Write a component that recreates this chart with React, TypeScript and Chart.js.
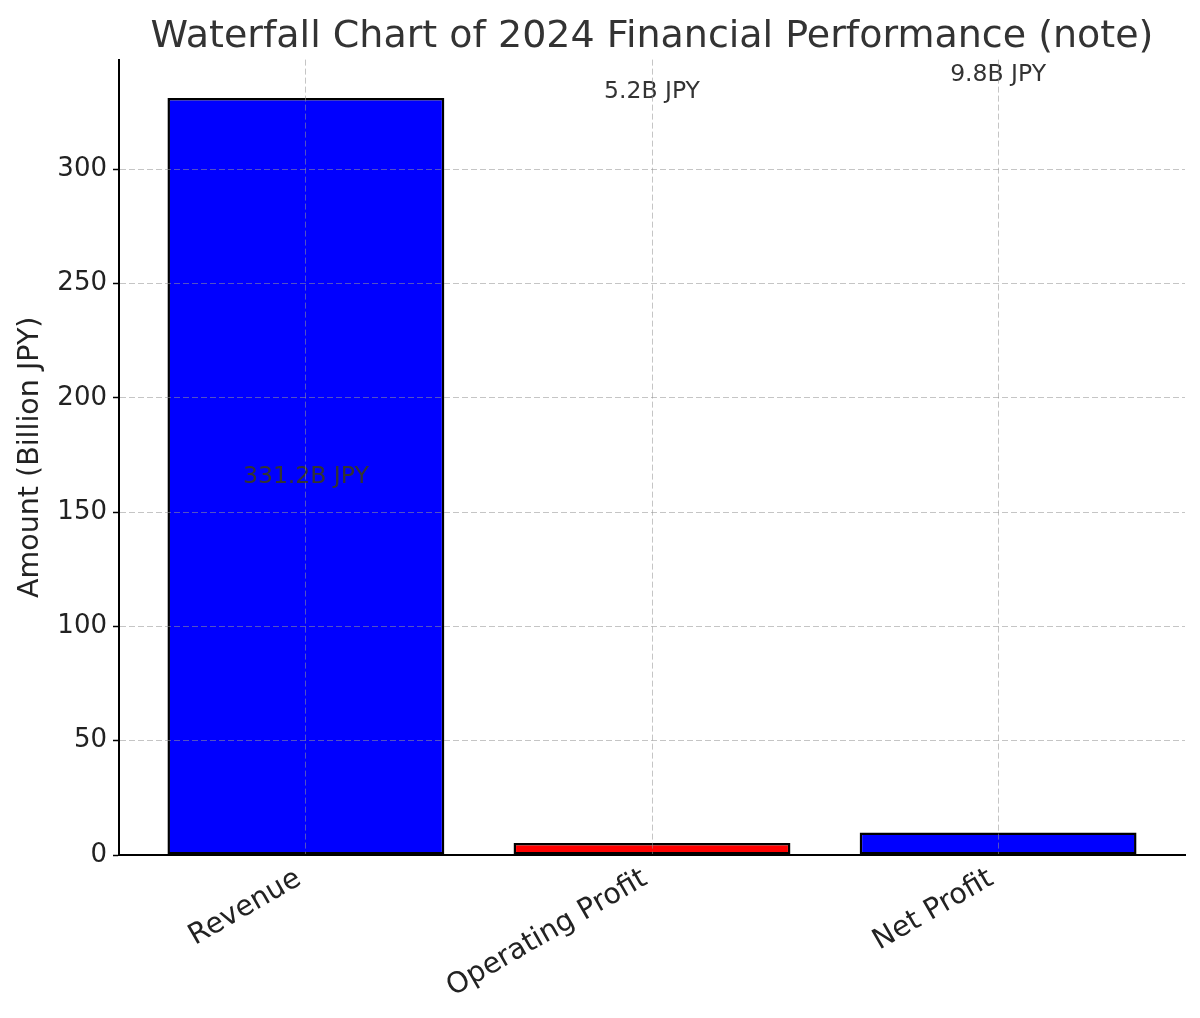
import React, { useRef, useEffect } from "react";
import { Chart, registerables } from "chart.js";

Chart.register(...registerables);

const categories = ["Revenue", "Operating Profit", "Net Profit"];
const amounts = [331.2, 5.2, 9.8];
const barColors = ["#0000ff", "#ff0000", "#0000ff"];
const valueLabels = ["331.2B JPY", "5.2B JPY", "9.8B JPY"];
const yTicks = [0, 50, 100, 150, 200, 250, 300];

const FONT = "'DejaVu Sans', sans-serif";
const GRID = "rgba(150, 150, 150, 0.55)";

// text labels placed at the running (cumulative) middle of each step
const barLabels = {
  id: "barLabels",
  afterDatasetsDraw(chart: any) {
    const { ctx, scales } = chart;
    ctx.save();
    ctx.font = `23.5px ${FONT}`;
    ctx.fillStyle = "#333333";
    ctx.textAlign = "center";
    ctx.textBaseline = "middle";
    let bottom = 0;
    amounts.forEach((v, i) => {
      ctx.fillText(
        valueLabels[i],
        scales.x.getPixelForValue(i),
        scales.y.getPixelForValue(bottom + v / 2)
      );
      bottom += v;
    });
    ctx.restore();
  },
};

const WaterfallChart = () => {
  const chartRef = useRef<HTMLCanvasElement>(null);

  useEffect(() => {
    if (!chartRef.current) return;
    const ctx = chartRef.current.getContext("2d");
    if (!ctx) return;

    const chart = new Chart(ctx, {
      type: "bar",
      data: {
        datasets: [
          {
            data: amounts.map((v, i) => ({ x: i, y: v })),
            backgroundColor: barColors,
            borderColor: "#000000",
            borderWidth: 2.5,
            borderSkipped: false,
            barPercentage: 0.8,
            categoryPercentage: 1.0,
          },
        ],
      },
      options: {
        animation: false,
        responsive: true,
        maintainAspectRatio: false,
        layout: { padding: { left: 0, right: 15, top: 0, bottom: 0 } },
        scales: {
          x: {
            type: "linear",
            min: -0.54,
            max: 2.54,
            offset: false,
            afterBuildTicks: (scale: any) => {
              scale.ticks = categories.map((_, i) => ({ value: i }));
            },
            afterFit: (scale: any) => {
              scale.height = 163;
            },
            grid: {
              offset: false,
              color: GRID,
              lineWidth: 1,
              drawTicks: false,
              z: 1,
            },
            border: { display: true, color: "#000000", width: 2, dash: [6, 3], z: 2 },
            ticks: {
              autoSkip: false,
              maxRotation: 30,
              minRotation: 30,
              padding: 7,
              labelOffset: -7,
              color: "#222222",
              font: { family: FONT, size: 28.5 },
              callback: (v: any) => categories[v as number] ?? "",
            },
          },
          y: {
            min: 0,
            max: 348,
            afterBuildTicks: (scale: any) => {
              scale.ticks = yTicks.map((value) => ({ value }));
            },
            afterFit: (scale: any) => {
              scale.width = 119;
            },
            grid: {
              color: GRID,
              lineWidth: 1,
              tickColor: "#000000",
              tickBorderDash: [],
              tickLength: 6,
              tickWidth: 1.5,
              z: 1,
            },
            border: { display: true, color: "#000000", width: 2, dash: [6, 3], z: 2 },
            ticks: {
              padding: 6,
              color: "#222222",
              font: { family: FONT, size: 26 },
            },
            title: {
              display: true,
              text: "Amount (Billion JPY)",
              color: "#222222",
              font: { family: FONT, size: 28.5 },
              padding: { top: 13, bottom: 0 },
            },
          },
        },
        plugins: {
          legend: { display: false },
          tooltip: { enabled: false },
          title: {
            display: true,
            text: "Waterfall Chart of 2024 Financial Performance (note)",
            fullSize: false,
            color: "#333333",
            font: { family: FONT, size: 38, weight: "normal" },
            padding: { top: 14, bottom: 0 },
          },
        },
      },
      plugins: [barLabels],
    });

    return () => {
      chart.destroy();
    };
  }, []);

  return (
    <div
      style={{
        position: "fixed",
        left: 0,
        top: 0,
        width: 1200,
        height: 1018,
        background: "#ffffff",
      }}
    >
      <canvas ref={chartRef} />
    </div>
  );
};

export default WaterfallChart;
